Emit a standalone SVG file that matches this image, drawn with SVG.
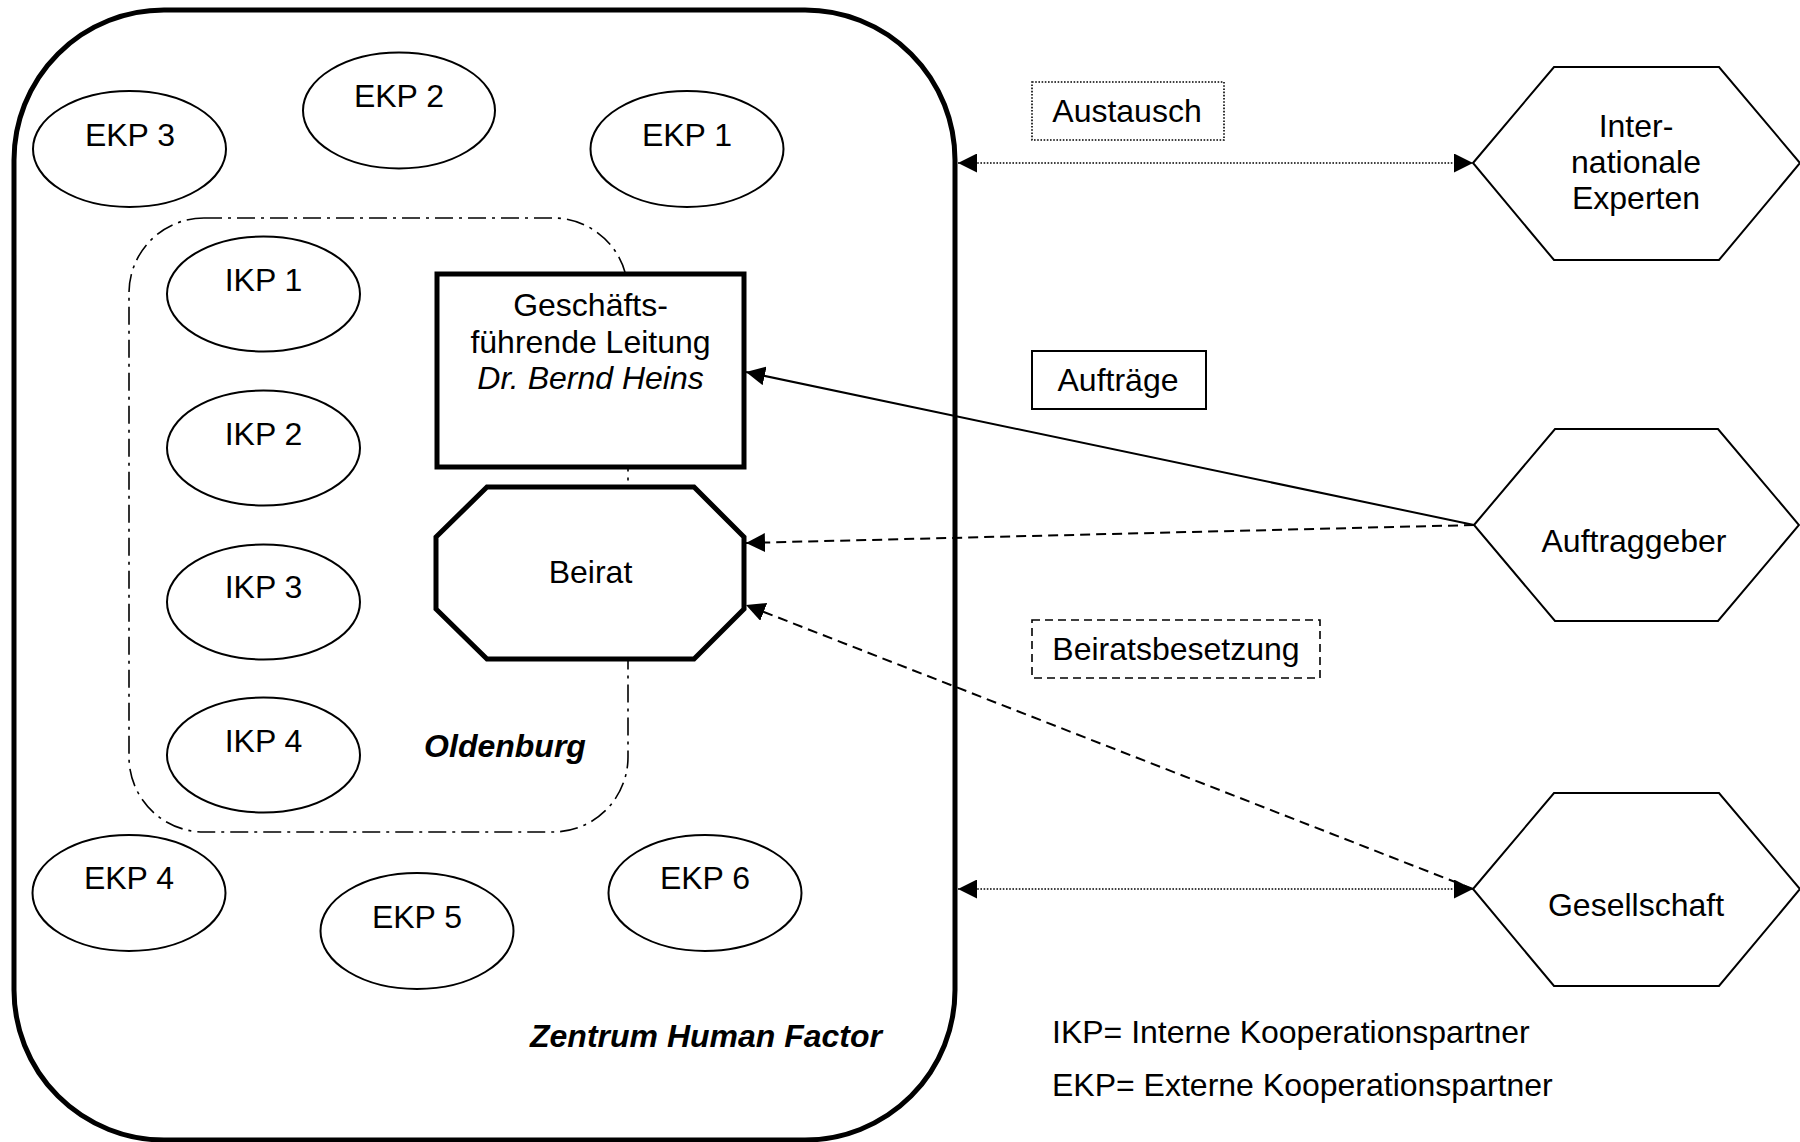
<svg xmlns="http://www.w3.org/2000/svg" width="1800" height="1142" viewBox="0 0 1800 1142">
<style>
text{font-family:"Liberation Sans",Arial,sans-serif;font-size:32px;fill:#000;text-anchor:middle}
.bi{font-weight:bold;font-style:italic}
.it{font-style:italic}
.ell{fill:#fff;stroke:#000;stroke-width:2}
.hex{fill:#fff;stroke:#000;stroke-width:2}
.thick{fill:#fff;stroke:#000;stroke-width:5}
.grp{fill:none;stroke:#000;stroke-width:1.6;stroke-dasharray:18 6 3 6}
.dot{fill:none;stroke:#000;stroke-width:1.6;stroke-dasharray:1.6 1.6}
.dash{fill:none;stroke:#000;stroke-width:2;stroke-dasharray:10 6}
.solid{fill:none;stroke:#000;stroke-width:2}
</style>
<defs>
<marker id="ah" viewBox="0 0 20 20" refX="20" refY="10" markerWidth="19" markerHeight="19" markerUnits="userSpaceOnUse" orient="auto-start-reverse">
<path d="M0,0 L20,10 L0,20 z" fill="#000"/>
</marker>
</defs>
<rect width="1800" height="1142" fill="#fff"/>

<g id="zentrum">
<rect x="14" y="10" width="941" height="1130" rx="150" ry="150" fill="#fff" stroke="#000" stroke-width="5"/>
<text class="bi" x="706" y="1047">Zentrum Human Factor</text>
</g>

<g id="oldenburg">
<rect x="129" y="218" width="499" height="614" rx="75" ry="75" class="grp"/>
<text class="bi" x="505" y="757">Oldenburg</text>
</g>

<g id="ekp3"><ellipse class="ell" cx="129.5" cy="149" rx="96.5" ry="58"/><text x="130" y="146">EKP 3</text></g>
<g id="ekp2"><ellipse class="ell" cx="399" cy="110.5" rx="96" ry="58"/><text x="399" y="107">EKP 2</text></g>
<g id="ekp1"><ellipse class="ell" cx="687" cy="149" rx="96.5" ry="58"/><text x="687" y="146">EKP 1</text></g>
<g id="ekp4"><ellipse class="ell" cx="129" cy="893" rx="96.5" ry="58"/><text x="129" y="889">EKP 4</text></g>
<g id="ekp5"><ellipse class="ell" cx="417" cy="931" rx="96.5" ry="58"/><text x="417" y="928">EKP 5</text></g>
<g id="ekp6"><ellipse class="ell" cx="705" cy="893" rx="96.5" ry="58"/><text x="705" y="889">EKP 6</text></g>

<g id="ikp1"><ellipse class="ell" cx="263.5" cy="294" rx="96.5" ry="57.5"/><text x="263.5" y="291">IKP 1</text></g>
<g id="ikp2"><ellipse class="ell" cx="263.5" cy="448" rx="96.5" ry="57.5"/><text x="263.5" y="445">IKP 2</text></g>
<g id="ikp3"><ellipse class="ell" cx="263.5" cy="602" rx="96.5" ry="57.5"/><text x="263.5" y="598">IKP 3</text></g>
<g id="ikp4"><ellipse class="ell" cx="263.5" cy="755" rx="96.5" ry="57.5"/><text x="263.5" y="752">IKP 4</text></g>

<g id="leitung">
<rect class="thick" x="437" y="274" width="307" height="193"/>
<text x="590.5" y="316">Geschäfts-</text>
<text x="590.5" y="353">führende Leitung</text>
<text class="it" x="590.5" y="389">Dr. Bernd Heins</text>
</g>

<g id="beirat">
<polygon class="thick" points="487,487 694,487 744,537 744,609 694,659 487,659 436,609 436,537"/>
<text x="590.5" y="583">Beirat</text>
</g>

<g id="internationale">
<polygon class="hex" points="1473,163 1554,67 1719,67 1800,163 1719,260 1554,260"/>
<text x="1636" y="137">Inter-</text>
<text x="1636" y="173">nationale</text>
<text x="1636" y="209">Experten</text>
</g>

<g id="auftraggeber">
<polygon class="hex" points="1474,525 1555,429 1718,429 1799,525 1718,621 1555,621"/>
<text x="1634" y="552">Auftraggeber</text>
</g>

<g id="gesellschaft">
<polygon class="hex" points="1473,889 1554,793 1719,793 1800,889 1719,986 1554,986"/>
<text x="1636" y="916">Gesellschaft</text>
</g>

<g id="connectors">
<line class="dot" x1="958" y1="163" x2="1473" y2="163" marker-start="url(#ah)" marker-end="url(#ah)"/>
<line class="dot" x1="958" y1="889" x2="1473" y2="889" marker-start="url(#ah)" marker-end="url(#ah)"/>
<line class="solid" x1="1474" y1="525" x2="746" y2="372" marker-end="url(#ah)"/>
<line class="dash" x1="1474" y1="525" x2="746" y2="543" marker-end="url(#ah)"/>
<line class="dash" x1="1473" y1="889" x2="746" y2="605" marker-end="url(#ah)"/>
</g>

<g id="label-austausch">
<rect class="dot" x="1032" y="82" width="192" height="58" fill="#fff"/>
<text x="1127" y="122">Austausch</text>
</g>
<g id="label-auftraege">
<rect class="solid" x="1032" y="351" width="174" height="58"/>
<text x="1118" y="391">Aufträge</text>
</g>
<g id="label-beiratsbesetzung">
<rect x="1032" y="620" width="288" height="58" fill="none" stroke="#000" stroke-width="1.6" stroke-dasharray="8 5"/>
<text x="1176" y="660">Beiratsbesetzung</text>
</g>

<g id="legende">
<text x="1052" y="1043" style="text-anchor:start">IKP= Interne Kooperationspartner</text>
<text x="1052" y="1096" style="text-anchor:start">EKP= Externe Kooperationspartner</text>
</g>
</svg>
